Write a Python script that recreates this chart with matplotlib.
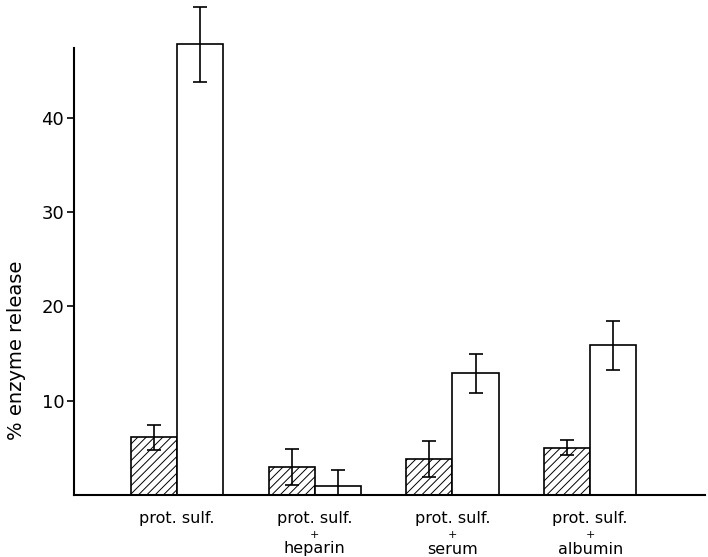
import matplotlib
matplotlib.use("Agg")
import matplotlib.pyplot as plt
import numpy as np
from matplotlib.transforms import blended_transform_factory

groups = ["prot. sulf.", "prot. sulf.", "prot. sulf.", "prot. sulf."]
second_lines = ["", "heparin", "serum", "albumin"]
hatched_vals = [6.1, 3.0, 3.8, 5.0]
hatched_err = [1.3, 1.9, 1.9, 0.8]
white_vals = [47.8, 1.0, 12.9, 15.9]
white_err = [4.0, 1.7, 2.1, 2.6]
yticks = [10, 20, 30, 40]

plt.rcParams['hatch.linewidth'] = 0.7
fig = plt.figure(figsize=(7.08, 5.57), dpi=100)
ymax = 52.5
px_per_unit = (495 - 48) / 47.4
top_px = 495 - ymax * px_per_unit
ax = fig.add_axes([74/708, 1-495/557, (705-74)/708, (495-top_px)/557])

x = np.arange(len(groups))
w = 0.335
ax.bar(x - w/2, hatched_vals, width=w, facecolor='white', edgecolor='black',
       hatch='////', linewidth=1.2, zorder=2)
ax.bar(x + w/2, white_vals, width=w, facecolor='white', edgecolor='black',
       linewidth=1.2, zorder=2)
ax.errorbar(x - w/2, hatched_vals, yerr=hatched_err, fmt='none', ecolor='black',
            elinewidth=1.2, capsize=5, capthick=1.2, zorder=3)
ax.errorbar(x + w/2, white_vals, yerr=white_err, fmt='none', ecolor='black',
            elinewidth=1.2, capsize=5, capthick=1.2, zorder=3)

ax.set_xlim(-0.748, 3.834)
ax.set_ylim(0, ymax)
ax.set_yticks(yticks)
ax.set_yticklabels([str(t) for t in yticks], fontsize=13)
ax.tick_params(axis='y', direction='out', length=5, width=1.2, pad=2)
ax.set_xticks([])
for s in ['top', 'right']:
    ax.spines[s].set_visible(False)
ax.spines['left'].set_linewidth(1.5)
ax.spines['left'].set_bounds(0, 47.4)
ax.spines['bottom'].set_linewidth(1.5)
ax.set_ylabel("% enzyme release", fontsize=14)
ax_h_px = 495 - top_px
ax.yaxis.set_label_coords((26 - 74) / 631, (495 - 350) / ax_h_px)

tr = blended_transform_factory(ax.transData, fig.transFigure)
for i, (g, s2) in enumerate(zip(groups, second_lines)):
    ax.text(i, 1-519/557, g, transform=tr, ha='center', va='center', fontsize=11.5)
    if s2:
        ax.text(i, 1-535/557, "+", transform=tr, ha='center', va='center', fontsize=8)
        ax.text(i, 1-549/557, s2, transform=tr, ha='center', va='center', fontsize=11.5)

fig.savefig("out.png", dpi=100)
